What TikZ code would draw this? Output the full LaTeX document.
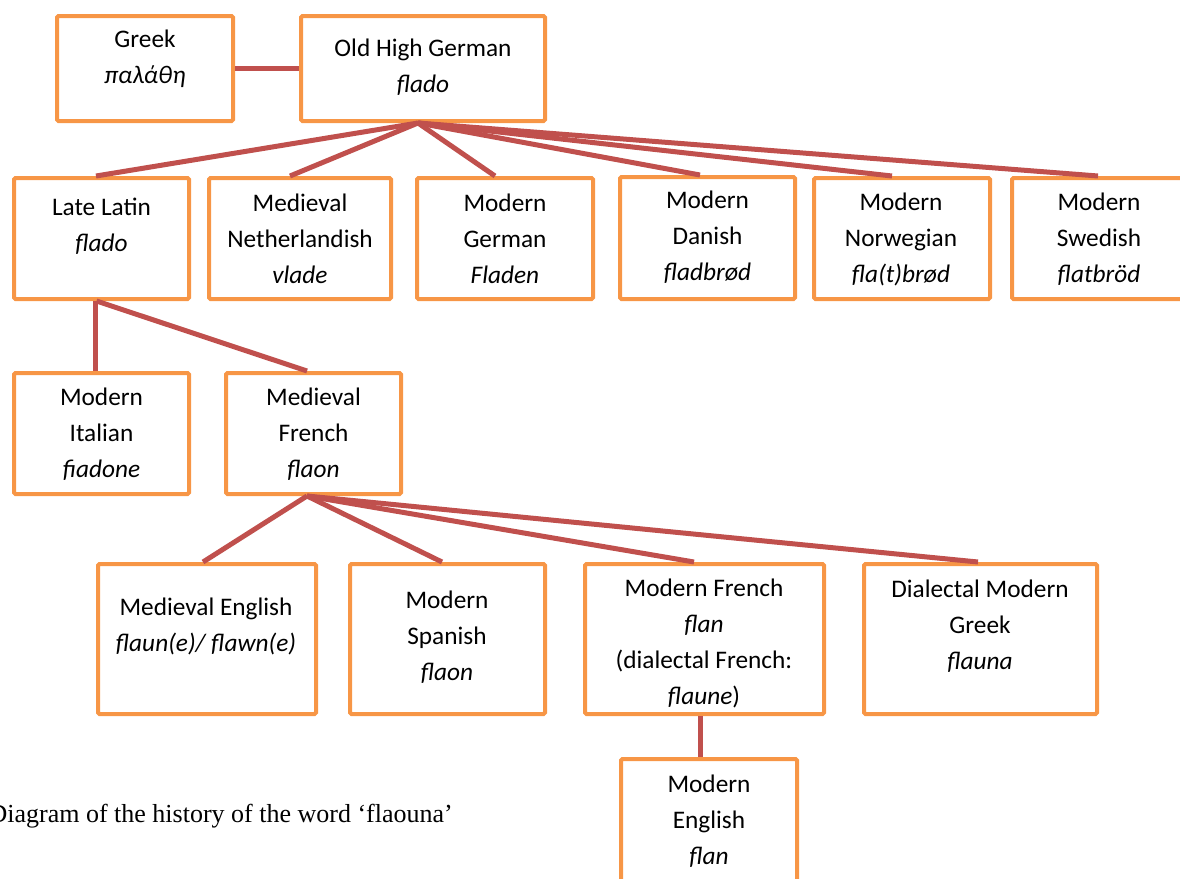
\documentclass[tikz,border=0pt]{standalone}
\usepackage{fontspec}
\setmainfont{Carlito}
\newfontfamily\capfont{Liberation Serif}
\definecolor{boxorange}{HTML}{F79646}
\definecolor{linkred}{HTML}{C0504D}
\begin{document}
\begin{tikzpicture}[x=1pt,y=-1pt,
  box/.style={draw=boxorange, line width=4pt, rounded corners=1.5pt, inner sep=0pt},
  lbl/.style={align=center, font=\fontsize{25.3}{36}\selectfont, inner sep=0pt},
  link/.style={draw=linkred, line width=5pt}]
\useasboundingbox (0,0) rectangle (1180,878);
% boxes
\node[box, minimum width=176, minimum height=105] (greek) at (145,68.5) {};
\node[box, minimum width=244, minimum height=105] (ohg) at (423,68.5) {};
\node[box, minimum width=175, minimum height=121] (latelatin) at (101.5,238.5) {};
\node[box, minimum width=182, minimum height=121] (neth) at (300,238.5) {};
\node[box, minimum width=176, minimum height=121] (german) at (505,238.5) {};
\node[box, minimum width=175, minimum height=122] (danish) at (707.5,238) {};
\node[box, minimum width=176, minimum height=121] (norw) at (902,238.5) {};
\node[box, minimum width=176, minimum height=121] (swed) at (1100,238.5) {};
\node[box, minimum width=175, minimum height=121] (italian) at (101.5,433.5) {};
\node[box, minimum width=175, minimum height=121] (medfr) at (313.5,433.5) {};
\node[box, minimum width=218, minimum height=150] (meden) at (207,639) {};
\node[box, minimum width=195, minimum height=150] (span) at (447.5,639) {};
\node[box, minimum width=239, minimum height=150] (modfr) at (704.5,639) {};
\node[box, minimum width=233, minimum height=150] (dial) at (980.5,639) {};
\node[box, minimum width=176, minimum height=150] (moden) at (709,834) {};
% texts
\node[lbl] (greekT) at (145,59) {Greek\\\textit{παλάθη}};
\node[lbl] (ohgT) at (423,67) {Old High German\\\textit{flado}};
\node[lbl] (latelatinT) at (101.5,226) {Late Latin\\\textit{flado}};
\node[lbl] (nethT) at (300,239) {Medieval\\Netherlandish\\\textit{vlade}};
\node[lbl] (germanT) at (505,239) {Modern\\German\\\textit{Fladen}};
\node[lbl] (danishT) at (707.5,237.5) {Modern\\Danish\\\textit{fladbrød}};
\node[lbl] (norwT) at (901,239) {Modern\\Norwegian\\\textit{fla(t)brød}};
\node[lbl] (swedT) at (1099,239) {Modern\\Swedish\\\textit{flatbröd}};
\node[lbl] (italianT) at (101.5,434) {Modern\\Italian\\\textit{fiadone}};
\node[lbl] (medfrT) at (313.5,434) {Medieval\\French\\\textit{flaon}};
\node[lbl] (medenT) at (206,626) {Medieval English\\\textit{flaun(e)/ flawn(e)}};
\node[lbl] (spanT) at (447,637.5) {Modern\\Spanish\\\textit{flaon}};
\node[lbl] (modfrT) at (704,643) {Modern French\\\textit{flan}\\(dialectal French:\\\textit{flaune})};
\node[lbl] (dialT) at (980,626) {Dialectal Modern\\Greek\\\textit{flauna}};
\node[lbl] (modenT) at (709,821) {Modern\\English\\\textit{flan}};
% caption
\node[anchor=base east, inner sep=0pt, font=\capfont\fontsize{26}{30}\selectfont] (caption) at (453,822) {Diagram of the history of the word ‘flaouna’};
% connectors
\draw[link] (greek.east) -- (ohg.west);
\coordinate (ohgJ) at ([xshift=-5pt]ohg.south);
\draw[link] (ohgJ) -- ([xshift=-5.5pt]latelatin.north);
\draw[link] (ohgJ) -- ([xshift=-10pt]neth.north);
\draw[link] (ohgJ) -- ([xshift=-10pt]german.north);
\draw[link] (ohgJ) -- ([xshift=-7.5pt]danish.north);
\draw[link] (ohgJ) -- ([xshift=-10pt]norw.north);
\draw[link] (ohgJ) -- ([xshift=-2pt]swed.north);
\coordinate (llJ) at ([xshift=-5pt]latelatin.south);
\draw[link] ([xshift=-6.5pt]latelatin.south) -- ([xshift=-6.5pt]italian.north);
\draw[link] (llJ) -- ([xshift=-6.5pt]medfr.north);
\coordinate (mfJ) at ([xshift=-6.5pt]medfr.south);
\draw[link] (mfJ) -- ([xshift=-4pt]meden.north);
\draw[link] (mfJ) -- ([xshift=-5.5pt]span.north);
\draw[link] (mfJ) -- ([xshift=-10.5pt]modfr.north);
\draw[link] (mfJ) -- ([xshift=-2.5pt]dial.north);
\draw[link] ([xshift=-4.5pt]modfr.south) -- ([xshift=-9pt]moden.north);
\end{tikzpicture}
\end{document}
